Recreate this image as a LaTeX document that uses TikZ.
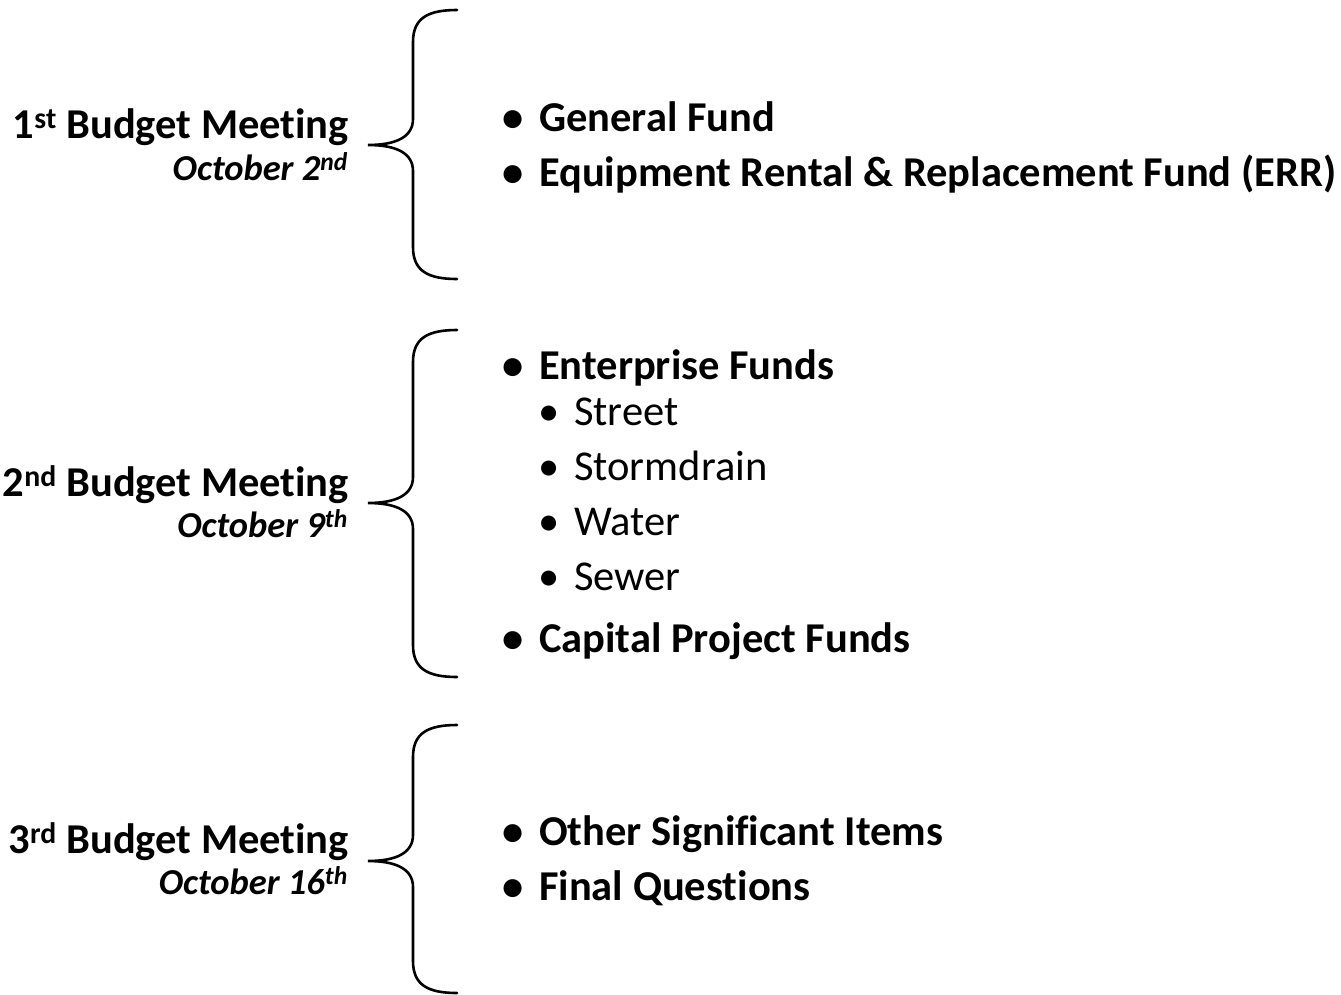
\documentclass[tikz,border=0pt]{standalone}
\usepackage{fontspec}
\setmainfont{Carlito}[Ligatures=NoCommon]

% brace that opens to the right: top y, tip y, bottom y
\newcommand\meetbrace[3]{%
  \draw[brace] (457,#1) .. controls (428,#1) and (413,#1+8) .. (413,#1+32)
    -- (413,#2-26) .. controls (413,#2-8) and (396,#2) .. (368,#2)
    .. controls (396,#2) and (413,#2+8) .. (413,#2+26)
    -- (413,#3-32) .. controls (413,#3-8) and (428,#3) .. (457,#3);}

\begin{document}
\begin{tikzpicture}[x=1pt,y=-1pt,
  brace/.style={line width=2.6pt,line cap=round},
  meet/.style={anchor=base east,font=\fontsize{42.5}{50}\selectfont\bfseries},
  date/.style={anchor=base east,font=\fontsize{36.5}{44}\selectfont\bfseries\itshape},
  itm/.style={anchor=base west,font=\fontsize{42.5}{50}\selectfont\bfseries},
  sub/.style={anchor=base west,font=\fontsize{42.5}{50}\selectfont},
  inner sep=0pt]

\useasboundingbox (0,0) rectangle (1341,994);

% meeting 1
\node(m1) at (349,138)[meet] {1\textsuperscript{st} Budget Meeting};
\node(d1) at (348,180)[date] {October 2\textsuperscript{nd}};
\meetbrace{10}{145}{279}
\node(gen) at (502,131)[itm] {\makebox[37pt][l]{\textbullet}General Fund};
\node(err) at (502,186)[itm] {\makebox[37pt][l]{\textbullet}Equipment Rental \& Replacement Fund (ERR)};

% meeting 2
\node(m2) at (349,496)[meet] {2\textsuperscript{nd} Budget Meeting};
\node(d2) at (348,537)[date] {October 9\textsuperscript{th}};
\meetbrace{330}{503}{677}
\node(ent) at (502,379)[itm] {\makebox[37pt][l]{\textbullet}Enterprise Funds};
\node(str) at (538,425)[sub] {\makebox[36pt][l]{\textbullet}Street};
\node(stm) at (538,480)[sub] {\makebox[36pt][l]{\textbullet}Stormdrain};
\node(wat) at (538,535)[sub] {\makebox[36pt][l]{\textbullet}Water};
\node(sew) at (538,590)[sub] {\makebox[36pt][l]{\textbullet}Sewer};
\node(cap) at (502,652)[itm] {\makebox[37pt][l]{\textbullet}Capital Project Funds};

% meeting 3
\node(m3) at (349,853)[meet] {3\textsuperscript{rd} Budget Meeting};
\node(d3) at (348,894)[date] {October 16\textsuperscript{th}};
\meetbrace{725}{861}{993}
\node(oth) at (502,845)[itm] {\makebox[37pt][l]{\textbullet}Other Significant Items};
\node(fin) at (502,900)[itm] {\makebox[37pt][l]{\textbullet}Final Questions};

\end{tikzpicture}
\end{document}
